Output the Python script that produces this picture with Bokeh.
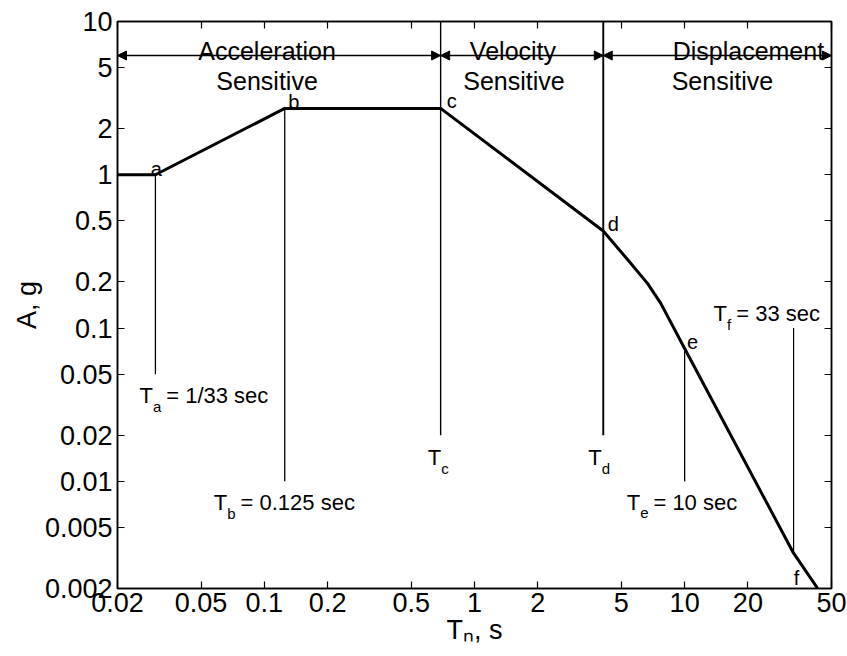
import math
from bokeh.plotting import figure
from bokeh.models import (Label, Arrow, NormalHead, FixedTicker, LogAxis,
                          CustomJSTickFormatter, ColumnDataSource)
from bokeh.embed import file_html
from bokeh.resources import INLINE

# ---------------- data ----------------
T_curve = [0.02, 1 / 33, 0.125, 0.69, 4.1, 5.35, 6.67, 7.7, 10.0, 33.0, 43.0]
A_curve = [1.0, 1.0, 2.71, 2.71, 0.43, 0.28, 0.195, 0.145, 0.0736, 0.0034, 0.002]

point_names = ["a", "b", "c", "d", "e", "f"]
T_points = [1 / 33, 0.125, 0.69, 4.1, 10.0, 33.0]
A_points = [1.0, 2.71, 2.71, 0.43, 0.0736, 0.0034]

vline_top = [1.0, 2.71, 10.0, 10.0, 0.0736, 0.1]
vline_bottom = [0.05, 0.01, 0.02, 0.02, 0.01, 0.0034]

period_subs = ["a", "b", "c", "d", "e", "f"]
period_texts = ["= 1/33 sec", "= 0.125 sec", "", "", "= 10 sec", "= 33 sec"]

region_bounds = [0.02, 0.69, 4.1, 50.0]
region_top = ["Acceleration", "Velocity", "Displacement"]
region_bottom = ["Sensitive", "Sensitive", "Sensitive"]
arrow_level = 6.0

xtick_vals = [0.02, 0.05, 0.1, 0.2, 0.5, 1, 2, 5, 10, 20, 50]
xtick_labels = ["0.02", "0.05", "0.1", "0.2", "0.5", "1", "2", "5", "10", "20", "50"]
ytick_vals = [0.002, 0.005, 0.01, 0.02, 0.05, 0.1, 0.2, 0.5, 1, 2, 5, 10]
ytick_labels = ["0.002", "0.005", "0.01", "0.02", "0.05", "0.1", "0.2", "0.5",
                "1", "2", "5", "10"]

x_title = "T\u2099, s"
y_title = "A, g"

# ---------------- styling ----------------
FONT = "Liberation Sans"
TICK_FS = "27px"

p = figure(width=847, height=656, x_axis_type="log", y_axis_type="log",
           x_range=(0.02, 50), y_range=(0.002, 10),
           output_backend="svg", toolbar_location=None,
           min_border_left=117, min_border_right=16,
           min_border_top=21, min_border_bottom=68)
p.grid.visible = False
p.outline_line_color = "black"
p.outline_line_width = 1.5
p.background_fill_color = "white"
p.border_fill_color = "white"

xax = p.xaxis[0]
yax = p.yaxis[0]

fmt_code = """
for (let i = 0; i < vals.length; i++) {
  if (Math.abs(Math.log(vals[i] / tick)) < 1e-6) return labs[i];
}
return "";
"""


def style_axis(ax, ticks, labs, show_labels, standoff):
    ax.ticker = FixedTicker(ticks=ticks)
    if show_labels:
        ax.formatter = CustomJSTickFormatter(args=dict(vals=ticks, labs=labs), code=fmt_code)
    else:
        ax.formatter = CustomJSTickFormatter(code="return '';")
    ax.major_tick_in = 7
    ax.major_tick_out = 0
    ax.minor_tick_line_color = None
    ax.major_tick_line_color = "black"
    ax.major_tick_line_width = 1.2
    ax.axis_line_color = "black"
    ax.axis_line_width = 1.5
    ax.major_label_text_font = FONT
    ax.major_label_text_font_size = TICK_FS
    ax.major_label_text_color = "black"
    ax.major_label_standoff = standoff


style_axis(xax, xtick_vals, xtick_labels, True, 4)
style_axis(yax, ytick_vals, ytick_labels, True, 5)

for ax, title, st in ((xax, x_title, 0), (yax, y_title, 0)):
    ax.axis_label = title
    ax.axis_label_text_font = FONT
    ax.axis_label_text_font_size = "27px"
    ax.axis_label_text_font_style = "normal"
    ax.axis_label_text_color = "black"
    ax.axis_label_standoff = st

top_ax = LogAxis()
right_ax = LogAxis()
style_axis(top_ax, xtick_vals, xtick_labels, False, 0)
style_axis(right_ax, ytick_vals, ytick_labels, False, 0)
top_ax.major_label_text_font_size = "1px"
right_ax.major_label_text_font_size = "1px"
p.add_layout(top_ax, "above")
p.add_layout(right_ax, "right")

# vertical period lines
vl_widths = [1.3, 1.3, 1.4, 1.9, 1.3, 1.2]
vsrc = ColumnDataSource(dict(x=T_points, top=vline_top, bottom=vline_bottom, w=vl_widths))
p.segment(x0="x", y0="top", x1="x", y1="bottom", source=vsrc,
          line_width="w", line_color="black")

# spectrum curve
p.line(T_curve, A_curve, line_width=3, line_color="black", line_join="round")

# region arrows
asrc = ColumnDataSource(dict(x0=region_bounds[:-1], x1=region_bounds[1:],
                             y=[arrow_level] * (len(region_bounds) - 1)))


def head():
    return NormalHead(size=9, fill_color="black", line_color="black", line_width=1)


p.add_layout(Arrow(start=head(), end=head(), x_start="x0", y_start="y",
                   x_end="x1", y_end="y", source=asrc,
                   line_width=1.5, line_color="black"))

# region texts
top_dx = [-12, -9, 31]
bot_dx = [-12, -8, 5]
for i in range(len(region_top)):
    xm = math.sqrt(region_bounds[i] * region_bounds[i + 1])
    p.add_layout(Label(x=xm, y=arrow_level, text=region_top[i], x_offset=top_dx[i],
                       y_offset=5, text_align="center", text_baseline="alphabetic",
                       text_font=FONT, text_font_size="25px", text_color="black"))
    p.add_layout(Label(x=xm, y=arrow_level, text=region_bottom[i], x_offset=bot_dx[i],
                       y_offset=-25, text_align="center", text_baseline="alphabetic",
                       text_font=FONT, text_font_size="25px", text_color="black"))

# point letters
pt_dx = [1, 9, 11, 10, 8, 3]
pt_dy = [6, 6, 7, 7, 6, -25]
for i, name in enumerate(point_names):
    p.add_layout(Label(x=T_points[i], y=A_points[i], text=name,
                       x_offset=pt_dx[i], y_offset=pt_dy[i],
                       text_align="center", text_baseline="alphabetic",
                       text_font=FONT, text_font_size="20px", text_color="black"))

# period labels  T_x = ...
lab_anchor_y = [vline_bottom[0], vline_bottom[1], vline_bottom[2], vline_bottom[3],
                vline_bottom[4], vline_top[5]]
lab_dx = [-16, -71, -13, -15, -58, -80]
lab_dy = [-21, -21, -22, -22, -21, 15]
sub_w = {"a": 8.3, "b": 8.3, "c": 7.5, "d": 8.3, "e": 8.3, "f": 4.2}
for i in range(len(T_points)):
    common = dict(x=T_points[i], y=lab_anchor_y[i], text_baseline="alphabetic",
                  text_align="left", text_font=FONT, text_color="black")
    p.add_layout(Label(text="T", x_offset=lab_dx[i], y_offset=lab_dy[i],
                       text_font_size="22px", **common))
    p.add_layout(Label(text=period_subs[i], x_offset=lab_dx[i] + 13.5,
                       y_offset=lab_dy[i] - 11, text_font_size="15px", **common))
    if period_texts[i]:
        p.add_layout(Label(text=period_texts[i],
                           x_offset=lab_dx[i] + 13.5 + sub_w[period_subs[i]] + 5,
                           y_offset=lab_dy[i], text_font_size="22px", **common))

open("out.html", "w").write(file_html(p, INLINE))
